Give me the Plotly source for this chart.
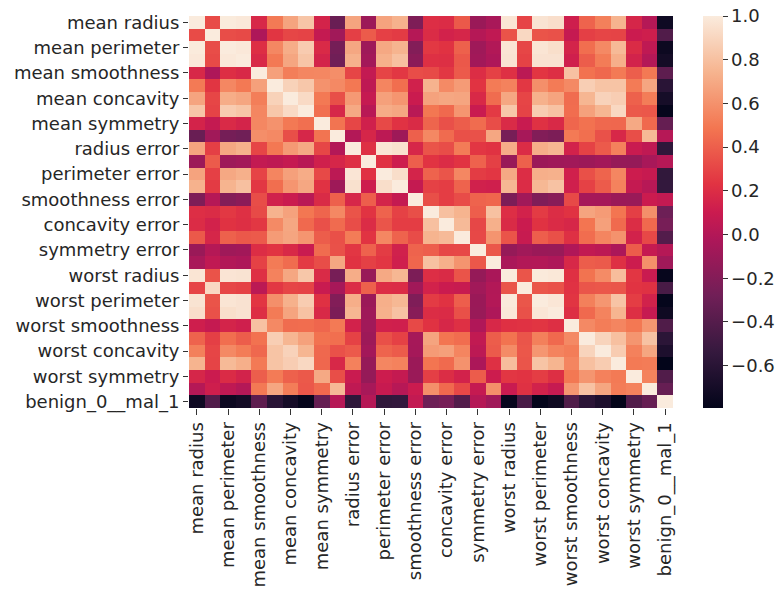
import plotly.graph_objects as go

labels = ["mean radius", "mean texture", "mean perimeter", "mean area", "mean smoothness",
          "mean compactness", "mean concavity", "mean concave points", "mean symmetry",
          "mean fractal dimension", "radius error", "texture error", "perimeter error",
          "area error", "smoothness error", "compactness error", "concavity error",
          "concave points error", "symmetry error", "fractal dimension error",
          "worst radius", "worst texture", "worst perimeter", "worst area",
          "worst smoothness", "worst compactness", "worst concavity",
          "worst concave points", "worst symmetry", "worst fractal dimension",
          "benign_0__mal_1"]

# upper-triangle correlations, row i holds columns i+1 .. 30
r00 = [0.324, 0.998, 0.987, 0.171, 0.506, 0.677, 0.823, 0.148, -0.312, 0.679, -0.097, 0.674, 0.736, -0.223, 0.206, 0.194, 0.376, -0.104, -0.043, 0.970, 0.297, 0.965, 0.941, 0.120, 0.413, 0.527, 0.744, 0.164, 0.007, -0.730]
r01 = [0.330, 0.321, -0.023, 0.237, 0.302, 0.293, 0.071, -0.076, 0.276, 0.386, 0.282, 0.260, 0.007, 0.192, 0.143, 0.164, 0.009, 0.054, 0.353, 0.912, 0.358, 0.344, 0.078, 0.278, 0.301, 0.295, 0.105, 0.119, -0.415]
r02 = [0.987, 0.207, 0.557, 0.716, 0.851, 0.183, -0.261, 0.692, -0.087, 0.693, 0.745, -0.203, 0.251, 0.228, 0.407, -0.082, -0.005, 0.969, 0.303, 0.970, 0.942, 0.151, 0.456, 0.564, 0.771, 0.189, 0.051, -0.743]
r03 = [0.177, 0.499, 0.686, 0.823, 0.151, -0.283, 0.733, -0.066, 0.727, 0.800, -0.167, 0.213, 0.208, 0.372, -0.072, -0.020, 0.963, 0.287, 0.959, 0.959, 0.124, 0.390, 0.513, 0.722, 0.144, 0.004, -0.709]
r04 = [0.659, 0.522, 0.554, 0.558, 0.585, 0.301, 0.068, 0.296, 0.247, 0.332, 0.319, 0.248, 0.381, 0.201, 0.284, 0.213, 0.036, 0.239, 0.207, 0.805, 0.472, 0.435, 0.503, 0.394, 0.499, -0.359]
r05 = [0.883, 0.831, 0.603, 0.565, 0.497, 0.046, 0.549, 0.456, 0.135, 0.739, 0.571, 0.642, 0.230, 0.507, 0.535, 0.248, 0.590, 0.510, 0.565, 0.866, 0.816, 0.816, 0.510, 0.687, -0.597]
r06 = [0.921, 0.501, 0.337, 0.632, 0.076, 0.660, 0.617, 0.099, 0.670, 0.691, 0.683, 0.178, 0.449, 0.688, 0.300, 0.730, 0.676, 0.449, 0.755, 0.884, 0.861, 0.409, 0.515, -0.696]
r07 = [0.462, 0.167, 0.698, 0.021, 0.711, 0.690, 0.028, 0.490, 0.439, 0.616, 0.095, 0.258, 0.830, 0.293, 0.856, 0.810, 0.453, 0.667, 0.752, 0.910, 0.376, 0.369, -0.777]
r08 = [0.480, 0.303, 0.128, 0.314, 0.224, 0.187, 0.422, 0.343, 0.393, 0.449, 0.332, 0.186, 0.091, 0.219, 0.177, 0.427, 0.473, 0.434, 0.430, 0.700, 0.438, -0.330]
r09 = [0.000, 0.164, 0.040, -0.090, 0.402, 0.560, 0.447, 0.341, 0.345, 0.688, -0.254, -0.051, -0.205, -0.232, 0.505, 0.459, 0.346, 0.175, 0.334, 0.767, 0.013]
r10 = [0.213, 0.973, 0.952, 0.165, 0.356, 0.332, 0.514, 0.241, 0.228, 0.715, 0.195, 0.720, 0.752, 0.142, 0.287, 0.381, 0.531, 0.095, 0.050, -0.567]
r11 = [0.223, 0.112, 0.397, 0.232, 0.195, 0.230, 0.412, 0.280, -0.112, 0.409, -0.102, -0.083, -0.074, -0.092, -0.069, -0.120, -0.128, -0.046, 0.008]
r12 = [0.938, 0.151, 0.416, 0.362, 0.556, 0.266, 0.244, 0.697, 0.200, 0.721, 0.731, 0.130, 0.342, 0.419, 0.555, 0.110, 0.085, -0.556]
r13 = [0.075, 0.285, 0.271, 0.416, 0.134, 0.127, 0.757, 0.196, 0.761, 0.811, 0.125, 0.283, 0.385, 0.538, 0.074, 0.018, -0.548]
r14 = [0.337, 0.269, 0.328, 0.414, 0.427, -0.231, -0.075, -0.217, -0.182, 0.315, -0.056, -0.058, -0.102, -0.107, 0.101, 0.067]
r15 = [0.801, 0.744, 0.395, 0.803, 0.205, 0.143, 0.261, 0.199, 0.227, 0.679, 0.639, 0.483, 0.278, 0.591, -0.293]
r16 = [0.772, 0.309, 0.727, 0.187, 0.100, 0.227, 0.188, 0.168, 0.485, 0.663, 0.440, 0.198, 0.439, -0.254]
r17 = [0.313, 0.611, 0.358, 0.087, 0.395, 0.342, 0.215, 0.453, 0.550, 0.602, 0.143, 0.311, -0.408]
r18 = [0.369, -0.128, -0.077, -0.104, -0.110, -0.013, 0.060, 0.037, -0.030, 0.389, 0.078, 0.007]
r19 = [-0.037, -0.003, -0.001, -0.023, 0.171, 0.390, 0.380, 0.215, 0.111, 0.591, -0.078]
r20 = [0.360, 0.994, 0.984, 0.217, 0.476, 0.574, 0.787, 0.243, 0.093, -0.776]
r21 = [0.365, 0.346, 0.225, 0.361, 0.368, 0.360, 0.233, 0.219, -0.457]
r22 = [0.978, 0.237, 0.529, 0.618, 0.816, 0.270, 0.139, -0.783]
r23 = [0.209, 0.438, 0.543, 0.747, 0.209, 0.080, -0.734]
r24 = [0.568, 0.518, 0.548, 0.494, 0.618, -0.421]
r25 = [0.892, 0.801, 0.614, 0.810, -0.591]
r26 = [0.855, 0.533, 0.686, -0.660]
r27 = [0.503, 0.511, -0.794]
r28 = [0.538, -0.416]
r29 = [-0.324]

upper = [r00, r01, r02, r03, r04, r05, r06, r07, r08, r09, r10, r11, r12, r13, r14,
         r15, r16, r17, r18, r19, r20, r21, r22, r23, r24, r25, r26, r27, r28, r29]

n = len(labels)
z = [[1.0] * n for _ in range(n)]
for i, row in enumerate(upper):
    for k, v in enumerate(row):
        j = i + 1 + k
        z[i][j] = v
        z[j][i] = v

rocket = [
    [0.0, "#03051a"],
    [1 / 7, "#35193e"],
    [2 / 7, "#701f57"],
    [3 / 7, "#ad1759"],
    [0.5, "#cb1b4f"],
    [4 / 7, "#e13342"],
    [5 / 7, "#f37651"],
    [6 / 7, "#f6b48f"],
    [1.0, "#faebdd"],
]

idx = list(range(n))
tick_idx = idx[::2]
tick_txt = [labels[i] for i in tick_idx]

font = dict(family="DejaVu Sans", size=18, color="#262626")

W, H = 780, 592
L, R, T, B = 189, 673, 16, 408
CBX = 703

fig = go.Figure(go.Heatmap(
    z=z, x=idx, y=idx,
    colorscale=rocket,
    colorbar=dict(
        x=(CBX - L) / (R - L), xanchor="left", xpad=0,
        y=1, yanchor="top", ypad=0,
        lenmode="pixels", len=B - T,
        thickness=20,
        outlinewidth=0,
        tickvals=[-0.6, -0.4, -0.2, 0.0, 0.2, 0.4, 0.6, 0.8, 1.0],
        ticktext=["\u22120.6", "\u22120.4", "\u22120.2", "0.0", "0.2", "0.4", "0.6", "0.8", "1.0"],
        ticks="outside", ticklen=5, tickwidth=1, tickcolor="#333",
        tickfont=font,
    ),
))

fig.update_layout(
    width=W, height=H,
    margin=dict(l=L, r=W - R, t=T, b=H - B, autoexpand=False),
    paper_bgcolor="white", plot_bgcolor="white",
    font=font,
)
fig.update_xaxes(
    range=[-0.5, n - 0.5], tickvals=tick_idx, ticktext=tick_txt,
    tickangle=-90, ticks="outside", ticklen=6, tickcolor="#333",
    showgrid=False, zeroline=False, showline=False, tickfont=font,
    automargin=False,
)
fig.update_yaxes(
    range=[n - 0.5, -0.5], tickvals=tick_idx, ticktext=tick_txt,
    ticks="outside", ticklen=5, tickcolor="#333",
    showgrid=False, zeroline=False, showline=False, tickfont=font,
    automargin=False,
)

fig.write_html(
    "out.html",
    config={"displayModeBar": False},
    post_script="document.body.style.margin='0';document.body.style.overflow='hidden';",
)
